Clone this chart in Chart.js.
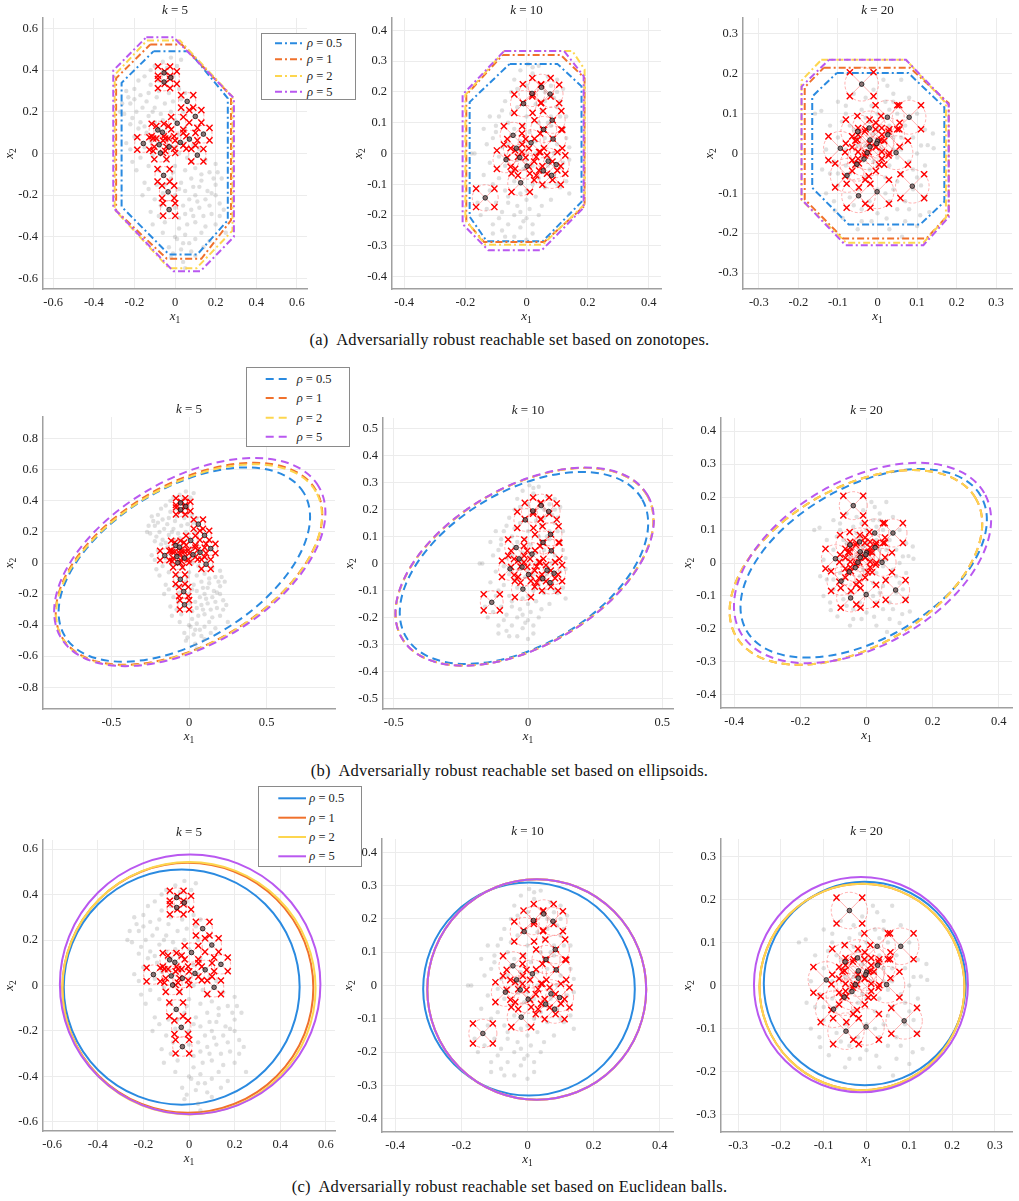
<!DOCTYPE html>
<html>
<head>
<meta charset="utf-8">
<script src="https://cdn.jsdelivr.net/npm/chart.js@4.4.1/dist/chart.umd.min.js"></script>
<style>
  body { margin: 0; background: #fff; width: 1019px; height: 1201px; position: relative; overflow: hidden; font-family: "Liberation Serif", "Times New Roman", "DejaVu Serif", serif; }
  .panel { position: absolute; }
  .legend { position: absolute; z-index: 5; }
  .caption { position: absolute; left: 0; width: 1019px; text-align: center; font-size: 16.5px; letter-spacing: 0.2px; color: #111; white-space: pre; }
</style>
</head>
<body>

<div class="caption" style="top:330px">(a)  Adversarially robust reachable set based on zonotopes.</div>
<div class="caption" style="top:761px">(b)  Adversarially robust reachable set based on ellipsoids.</div>
<div class="caption" style="top:1177px">(c)  Adversarially robust reachable set based on Euclidean balls.</div>

<script>
// legend
const rhoLabels = ['0.5', '1', '2', '5'];
const rhoColors = ['#2a8ae0', '#f0712c', '#fdd64f', '#b958f0'];

// tick labels
const ticks6 = [-0.6, -0.4, -0.2, 0, 0.2, 0.4, 0.6];
const ticks4by2 = [-0.4, -0.2, 0, 0.2, 0.4];
const ticks4by1 = [-0.4, -0.3, -0.2, -0.1, 0, 0.1, 0.2, 0.3, 0.4];
const ticks3 = [-0.3, -0.2, -0.1, 0, 0.1, 0.2, 0.3];
const ticksHalf = [-0.5, 0, 0.5];
const ticks8 = [-0.8, -0.6, -0.4, -0.2, 0, 0.2, 0.4, 0.6, 0.8];
const ticks5by1 = [-0.5, -0.4, -0.3, -0.2, -0.1, 0, 0.1, 0.2, 0.3, 0.4, 0.5];

// perturbation radius around each sampled state
const eps = 0.03;

// gray sampled trajectories
const cloudK5 = [
  [-0.02,0.46],[0.03,0.45],[-0.06,0.44],[-0.1,0.42],[-0.15,0.37],[0.01,0.42],[-0.12,0.33],[-0.2,0.31],[-0.24,0.3],[-0.17,0.28],
  [-0.08,0.3],[-0.03,0.29],[0.02,0.31],[-0.27,0.2],[-0.22,0.24],[-0.14,0.25],[-0.1,0.22],[-0.05,0.24],[0.03,0.26],[-0.25,0.19],
  [-0.19,0.2],[-0.13,0.18],[-0.07,0.19],[-0.02,0.2],[0.04,0.2],[-0.22,0.14],[-0.17,0.15],[-0.1,0.15],[-0.04,0.13],[0.05,0.12],
  [-0.2,0.08],[-0.14,0.1],[-0.03,0.07],[0.02,0.09],[0.09,0.04],[-0.22,0.02],[-0.17,-0.02],[-0.11,-0.01],[-0.04,-0.03],[0.02,0.0],
  [0.06,-0.02],[0.15,-0.03],[0.2,-0.05],[-0.19,-0.08],[-0.13,-0.06],[-0.08,-0.08],[0.0,-0.06],[0.05,-0.08],[0.1,-0.07],[0.17,-0.09],
  [-0.15,-0.14],[-0.09,-0.15],[-0.02,-0.12],[0.03,-0.14],[0.08,-0.12],[0.13,-0.13],[0.2,-0.15],[0.23,-0.12],[-0.16,-0.2],[-0.1,-0.22],
  [0.0,-0.2],[0.05,-0.18],[0.1,-0.2],[0.15,-0.22],[0.22,-0.24],[-0.12,-0.28],[0.0,-0.26],[0.04,-0.25],[0.08,-0.27],[0.12,-0.26],
  [0.18,-0.29],[0.22,-0.3],[-0.11,-0.34],[-0.05,-0.33],[0.02,-0.31],[0.06,-0.34],[0.1,-0.33],[0.15,-0.35],[0.25,-0.38],[-0.06,-0.38],
  [0.0,-0.4],[0.05,-0.39],[0.1,-0.41],[0.17,-0.42],[-0.03,-0.45],[0.03,-0.46],[0.08,-0.47],[-0.02,-0.5],[0.04,-0.52],[0.05,-0.55],
  [0.1,-0.49],[-0.07,0.05],[-0.12,0.06],[0.0,0.03],[0.07,0.07],[-0.05,-0.15],[0.07,-0.22],[0.09,-0.3],[0.02,-0.36],[-0.08,0.12],
  [0.0,0.16],[-0.16,0.22],[-0.2,0.26],[-0.18,0.12],[-0.09,0.27],[0.12,-0.16],[0.14,-0.3],[0.18,-0.19],[-0.07,-0.25],[0.04,-0.43],
  [-0.01,0.37],[-0.04,0.41],[-0.23,0.27],[-0.26,0.24],[-0.21,0.17],[-0.15,0.13],[-0.11,0.2],[-0.06,0.16],[-0.01,0.25],[0.05,0.29],
  [-0.13,0.29],[-0.18,0.35],[-0.08,0.35],[-0.12,0.4],[-0.24,0.05],[-0.21,-0.04],[-0.15,0.03],[-0.09,0.07],[0.04,0.05],[0.12,0.02],
  [0.08,-0.04],[-0.01,-0.09],[0.13,-0.1],[0.19,-0.12],[-0.13,-0.17],[-0.06,-0.19],[0.02,-0.17],[0.09,-0.16],[0.16,-0.18],[0.2,-0.2],
  [-0.08,-0.3],[0.05,-0.29],[0.11,-0.23],[0.17,-0.25],[0.13,-0.38],[0.2,-0.34],[0.07,-0.43],[-0.01,-0.48],[0.01,-0.41],[0.14,-0.45],
  [0.24,-0.27],[0.21,-0.09]
];
const cloudK10 = [
  [0.005,0.29],[0.04,0.285],[-0.02,0.27],[0.02,0.26],[0.07,0.25],[0.1,0.24],[-0.04,0.24],[0.12,0.21],[-0.05,0.2],[0.0,0.22],
  [0.06,0.2],[0.09,0.18],[-0.07,0.17],[-0.03,0.15],[0.03,0.16],[0.1,0.15],[0.13,0.12],[-0.09,0.12],[-0.12,0.12],[-0.06,0.1],
  [0.0,0.12],[0.04,0.1],[0.08,0.09],[0.12,0.08],[-0.1,0.07],[-0.05,0.06],[0.01,0.07],[0.06,0.05],[0.1,0.03],[0.14,0.02],
  [-0.13,0.03],[-0.17,0.0],[-0.08,0.02],[-0.02,0.01],[0.03,0.0],[0.07,-0.01],[0.12,-0.03],[0.14,-0.02],[-0.12,-0.03],[-0.07,-0.04],
  [-0.01,-0.05],[0.05,-0.06],[0.09,-0.07],[0.13,-0.09],[-0.14,-0.07],[-0.09,-0.08],[-0.04,-0.09],[0.02,-0.1],[0.06,-0.11],[0.11,-0.11],
  [0.14,-0.13],[-0.12,-0.12],[-0.07,-0.12],[-0.02,-0.13],[0.03,-0.14],[0.08,-0.15],[-0.1,-0.16],[-0.06,-0.16],[-0.03,-0.17],[0.01,-0.18],
  [0.05,-0.17],[-0.15,-0.2],[-0.08,-0.19],[-0.04,-0.2],[0.0,-0.21],[-0.11,-0.23],[-0.06,-0.23],[-0.02,-0.24],[0.02,-0.23],[-0.11,-0.26],
  [-0.04,-0.27],[0.0,-0.28],[-0.08,-0.25],[0.04,-0.2],[-0.05,0.13],[0.05,0.14],[0.08,0.12],[-0.01,0.09],[-0.03,-0.02],[0.02,-0.04],
  [-0.09,-0.01],[0.03,0.04],[0.07,0.1],[0.1,0.2],[-0.16,-0.16],[-0.18,0.0],[-0.1,0.09],[0.0,-0.15],[0.02,0.28],[-0.03,0.21],
  [0.08,0.22],[0.11,0.17],[-0.08,0.14],[0.02,0.19],[-0.04,0.08],[0.05,0.08],[0.11,0.12],[-0.11,0.05],[-0.06,0.03],[0.09,0.0],
  [0.0,-0.02],[-0.05,-0.06],[0.07,-0.04],[-0.11,-0.1],[0.04,-0.08],[0.1,-0.1],[-0.06,-0.14],[0.0,-0.12],[-0.09,-0.21],[-0.02,-0.19],
  [0.02,-0.26],[-0.07,-0.27],[-0.13,-0.18],[-0.14,0.08],[0.13,0.05],[-0.02,0.04],[0.06,0.17],[-0.01,-0.22]
];
const cloudK20 = [
  [0.015,0.185],[0.06,0.185],[-0.01,0.16],[0.04,0.15],[-0.06,0.15],[-0.1,0.13],[0.02,0.13],[0.08,0.14],[-0.158,0.1],[-0.142,0.107],
  [-0.08,0.1],[-0.04,0.11],[0.0,0.1],[0.05,0.1],[0.1,0.1],[-0.12,0.07],[-0.07,0.07],[-0.02,0.08],[0.03,0.07],[0.07,0.07],
  [0.12,0.06],[-0.1,0.04],[-0.05,0.04],[-0.01,0.05],[0.04,0.04],[0.09,0.04],[0.127,0.021],[0.142,0.013],[-0.13,0.01],[-0.08,0.01],
  [-0.03,0.02],[0.01,0.01],[0.06,0.01],[0.1,0.0],[-0.11,-0.02],[-0.06,-0.02],[-0.01,-0.02],[0.03,-0.03],[0.08,-0.02],[0.12,-0.03],
  [-0.12,-0.05],[-0.07,-0.05],[-0.03,-0.06],[0.02,-0.06],[0.06,-0.05],[0.1,-0.06],[-0.1,-0.08],[-0.05,-0.09],[0.0,-0.09],[0.04,-0.09],
  [0.09,-0.09],[-0.13,-0.1],[-0.07,-0.11],[-0.02,-0.12],[0.03,-0.12],[0.07,-0.12],[0.12,-0.11],[-0.108,-0.143],[-0.088,-0.162],[-0.04,-0.14],
  [0.0,-0.15],[0.05,-0.14],[0.131,-0.147],[0.108,-0.155],[-0.015,-0.17],[0.023,-0.163],[0.1,-0.182],[0.062,-0.209],[-0.02,0.03],[0.0,-0.03],
  [0.02,0.03],[-0.04,-0.01],[-0.06,0.06],[0.05,-0.01],[-0.015,0.12],[0.025,0.17],[-0.04,-0.17],[0.07,-0.17],[-0.03,0.14],[0.03,0.11],
  [-0.09,0.08],[0.08,0.09],[-0.05,0.02],[0.04,0.01],[0.0,0.06],[-0.02,-0.04],[0.05,-0.07],[-0.08,-0.03],[0.09,-0.04],[-0.06,-0.13],
  [0.02,-0.1],[0.08,-0.14],[-0.11,-0.12],[0.11,-0.08],[-0.14,-0.04],[0.14,0.05],[-0.05,-0.19],[0.03,-0.19],[0.04,0.13],[-0.08,0.12],
  [0.11,0.02],[-0.1,-0.05],[0.06,0.04],[-0.03,0.09]
];

// black nominal states (centre of each perturbation ball)
const centersK5 = [
  [-0.054,0.387],[-0.021,0.364],[-0.054,0.343],[0.06,0.25],[0.10,0.178],[0.011,0.145],[0.14,0.093],[-0.085,0.113],[-0.062,0.102],[-0.156,0.048],
  [-0.078,0.042],[-0.029,0.032],[0.026,0.053],[0.071,0.069],[-0.072,0.002],[0.110,-0.008],[-0.056,-0.105],[-0.034,-0.184],[-0.029,-0.269]
];
const centersK10 = [
  [0.018,0.195],[-0.01,0.162],[0.049,0.215],[0.077,0.193],[0.056,0.078],[0.087,0.047],[0.084,0.108],[0.015,0.035],[-0.033,0.017],[-0.044,0.059],
  [-0.022,-0.013],[-0.067,-0.02],[0.002,-0.041],[0.071,-0.025],[0.097,-0.036],[0.055,-0.056],[0.082,-0.071],[-0.019,-0.095],[-0.135,-0.144]
];
const centersK20 = [
  [-0.04,0.174],[0.025,0.091],[0.08,0.091],[-0.021,0.064],[-0.05,0.055],[0.026,0.047],[-0.019,0.034],[0.0,0.031],[-0.002,0.025],[-0.019,0.017],
  [-0.094,0.013],[-0.026,0.002],[0.047,0.002],[-0.034,-0.014],[-0.052,-0.027],[-0.077,-0.055],[0.088,-0.082],[-0.048,-0.106],[-0.001,-0.096]
];

// zonotope vertices, one polygon per rho (0.5, 1, 2, 5)
const zonoK5 = [
  [[-0.106,0.49],[0.07,0.49],[0.26,0.265],[0.26,-0.32],[0.11,-0.484],[-0.03,-0.484],[-0.263,-0.255],[-0.263,0.339]],
  [[-0.122,0.523],[0.033,0.523],[0.276,0.277],[0.276,-0.32],[0.13,-0.505],[-0.04,-0.505],[-0.29,-0.274],[-0.29,0.361]],
  [[-0.138,0.542],[0.024,0.542],[0.283,0.273],[0.283,-0.37],[0.106,-0.55],[-0.03,-0.55],[-0.297,-0.27],[-0.297,0.377]],
  [[-0.141,0.558],[-0.008,0.558],[0.29,0.265],[0.29,-0.4],[0.125,-0.565],[-0.008,-0.565],[-0.304,-0.26],[-0.304,0.398]]
];
const zonoK10 = [
  [[-0.055,0.291],[0.101,0.291],[0.18,0.218],[0.18,-0.157],[0.053,-0.285],[-0.13,-0.285],[-0.186,-0.205],[-0.186,0.167]],
  [[-0.078,0.32],[0.112,0.32],[0.19,0.245],[0.19,-0.17],[0.058,-0.287],[-0.139,-0.287],[-0.197,-0.22],[-0.197,0.19]],
  [[-0.073,0.333],[0.15,0.333],[0.19,0.273],[0.19,-0.165],[0.053,-0.296],[-0.135,-0.296],[-0.2,-0.215],[-0.2,0.19]],
  [[-0.073,0.333],[0.123,0.333],[0.187,0.251],[0.187,-0.176],[0.05,-0.314],[-0.125,-0.314],[-0.209,-0.229],[-0.209,0.191]]
];
const zonoK20 = [
  [[-0.103,0.202],[0.078,0.202],[0.169,0.116],[0.169,-0.121],[0.108,-0.178],[-0.073,-0.178],[-0.165,-0.086],[-0.165,0.143]],
  [[-0.136,0.215],[0.082,0.215],[0.18,0.126],[0.18,-0.153],[0.124,-0.213],[-0.087,-0.213],[-0.184,-0.115],[-0.184,0.166]],
  [[-0.142,0.235],[0.072,0.235],[0.173,0.126],[0.173,-0.161],[0.116,-0.224],[-0.079,-0.224],[-0.192,-0.117],[-0.192,0.183]],
  [[-0.123,0.235],[0.072,0.235],[0.18,0.123],[0.18,-0.16],[0.116,-0.23],[-0.081,-0.23],[-0.192,-0.115],[-0.192,0.168]]
];

// ellipsoids: [cx, cy, semi-axis a, semi-axis b, angle in degrees]
const ellK5 = [
  [-0.03,-0.01,0.897,0.492,31],
  [0.0,-0.005,0.945,0.516,30],
  [0.0,-0.012,0.943,0.513,30],
  [0.005,0.006,0.962,0.535,30.3]
];
const ellK10 = [
  [-0.015,-0.0165,0.5085,0.287,30.2],
  [-0.013,-0.012,0.528,0.294,30],
  [-0.013,-0.012,0.528,0.294,30],
  [-0.0125,-0.0115,0.529,0.295,30]
];
const ellK20 = [
  [-0.0085,-0.001,0.409,0.231,30],
  [-0.032,-0.0135,0.4186,0.2408,30],
  [-0.032,-0.0135,0.4186,0.2408,30],
  [-0.012,0.0,0.425,0.251,30]
];

// Euclidean balls: [cx, cy, radius]
const ballK5 = [[-0.032,-0.007,0.517],[-0.005,-0.01,0.55],[0.0,-0.012,0.555],[0.005,0.005,0.571]];
const ballK10 = [[0.0045,-0.0105,0.32],[0.028,-0.012,0.331],[0.028,-0.012,0.331],[0.028,-0.012,0.331]];
const ballK20 = [[-0.004,0.0045,0.236],[-0.0105,-0.0035,0.2395],[-0.0105,-0.0035,0.2395],[-0.013,0.002,0.25]];

const panels = [
  { k: 5,  left: 43,  top: 18,  w: 264, h: 271, lim: 0.65, xt: ticks6,    yt: ticks6,    cloud: cloudK5,  centers: centersK5,  zono: zonoK5 },
  { k: 10, left: 392, top: 18,  w: 269, h: 271, lim: 0.44, xt: ticks4by2, yt: ticks4by1, cloud: cloudK10, centers: centersK10, zono: zonoK10 },
  { k: 20, left: 743, top: 18,  w: 269, h: 271, lim: 0.34, xt: ticks3,    yt: ticks3,    cloud: cloudK20, centers: centersK20, zono: zonoK20 },
  { k: 5,  left: 43,  top: 417, w: 292, h: 292, lim: 0.94, xt: ticksHalf, yt: ticks8,    cloud: cloudK5,  centers: centersK5,  ell: ellK5 },
  { k: 10, left: 383, top: 418, w: 290, h: 291, lim: 0.54, xt: ticksHalf, yt: ticks5by1, cloud: cloudK10, centers: centersK10, ell: ellK10 },
  { k: 20, left: 721, top: 418, w: 291, h: 290, lim: 0.44, xt: ticks4by2, yt: ticks4by1, cloud: cloudK20, centers: centersK20, ell: ellK20 },
  { k: 5,  left: 43,  top: 840, w: 292, h: 291, lim: 0.64, xt: ticks6,    yt: ticks6,    cloud: cloudK5,  centers: centersK5,  ball: ballK5 },
  { k: 10, left: 382, top: 839, w: 291, h: 293, lim: 0.44, xt: ticks4by2, yt: ticks4by1, cloud: cloudK10, centers: centersK10, ball: ballK10 },
  { k: 20, left: 721, top: 839, w: 291, h: 293, lim: 0.34, xt: ticks3,    yt: ticks3,    cloud: cloudK20, centers: centersK20, ball: ballK20 }
];

const legends = [
  { left: 261, top: 33,  w: 95,  h: 67, rows: [10.3, 26.3, 43, 58.7], x1: 14,   x2: 43, tx: 46,   dash: '7 3 2 3' },
  { left: 246, top: 367, w: 104, h: 80, rows: [12, 31, 50.7, 69.7],   x1: 19.7, x2: 44, tx: 50.7, dash: '8 5' },
  { left: 258, top: 786, w: 104, h: 81, rows: [12.3, 31.7, 51, 70.3], x1: 20.3, x2: 48, tx: 51.3, dash: '' }
];

const FONT = '"Liberation Serif", "Times New Roman", "DejaVu Serif", serif';
Chart.defaults.font.family = FONT;
Chart.defaults.font.size = 12;
Chart.defaults.color = '#222';

const fmt = v => (Math.abs(v) < 1e-9 ? '0' : String(+v.toFixed(2)));

function ring(ctx, xs, ys, cx, cy, a, b, deg, color, lw, dash) {
  const kx = xs.getPixelForValue(1) - xs.getPixelForValue(0);
  const ky = ys.getPixelForValue(1) - ys.getPixelForValue(0);
  ctx.save();
  ctx.translate(xs.getPixelForValue(cx), ys.getPixelForValue(cy));
  ctx.scale(kx, ky);
  ctx.rotate(deg * Math.PI / 180);
  ctx.beginPath();
  ctx.ellipse(0, 0, a, b, 0, 0, Math.PI * 2);
  ctx.restore();
  ctx.strokeStyle = color;
  ctx.lineWidth = lw;
  ctx.setLineDash(dash);
  ctx.stroke();
}

function mixedText(ctx, parts, x, y) {
  const fontOf = p => (p[1] === 'i' ? 'italic 13px ' : p[1] === 's' ? '9.5px ' : '13px ') + FONT;
  let total = 0;
  parts.forEach(p => { ctx.font = fontOf(p); total += ctx.measureText(p[0]).width; });
  let cx = x - total / 2;
  ctx.fillStyle = '#222';
  ctx.textBaseline = 'middle';
  ctx.textAlign = 'left';
  parts.forEach(p => {
    ctx.font = fontOf(p);
    ctx.fillText(p[0], cx, p[1] === 's' ? y + 3.5 : y);
    cx += ctx.measureText(p[0]).width;
  });
}

function overlay(p) {
  return {
    id: 'overlay',
    beforeDatasetsDraw(chart) {
      const { ctx, chartArea: a, scales: { x, y } } = chart;
      ctx.save();
      ctx.beginPath();
      ctx.rect(a.left, a.top, a.right - a.left, a.bottom - a.top);
      ctx.clip();
      if (p.ell) p.ell.forEach((e, j) => ring(ctx, x, y, e[0], e[1], e[2], e[3], e[4], rhoColors[j], 2, [8, 5]));
      if (p.ball) p.ball.forEach((b, j) => ring(ctx, x, y, b[0], b[1], b[2], b[2], 0, rhoColors[j], 2, []));
      const r = eps * Math.SQRT2;
      p.centers.forEach(c => {
        ring(ctx, x, y, c[0], c[1], r, r, 0, 'rgba(255,60,60,0.5)', 0.8, [3, 2]);
        ctx.setLineDash([]);
        ctx.strokeStyle = 'rgba(255,60,60,0.5)';
        ctx.lineWidth = 0.8;
        ctx.beginPath();
        ctx.moveTo(x.getPixelForValue(c[0] - eps), y.getPixelForValue(c[1] - eps));
        ctx.lineTo(x.getPixelForValue(c[0] + eps), y.getPixelForValue(c[1] + eps));
        ctx.moveTo(x.getPixelForValue(c[0] - eps), y.getPixelForValue(c[1] + eps));
        ctx.lineTo(x.getPixelForValue(c[0] + eps), y.getPixelForValue(c[1] - eps));
        ctx.stroke();
      });
      ctx.restore();
    },
    afterDraw(chart) {
      const { ctx, chartArea: a } = chart;
      const mid = (a.left + a.right) / 2;
      ctx.save();
      mixedText(ctx, [['k', 'i'], [' = ' + p.k, 'n']], mid, a.top - 7);
      mixedText(ctx, [['x', 'i'], ['1', 's']], mid, a.bottom + 28);
      ctx.translate(a.left - 33, (a.top + a.bottom) / 2);
      ctx.rotate(-Math.PI / 2);
      mixedText(ctx, [['x', 'i'], ['2', 's']], 0, 0);
      ctx.restore();
    }
  };
}

const L = 48, T = 20, R = 10, B = 42;

panels.forEach(p => {
  const box = document.createElement('div');
  box.className = 'panel';
  const W = p.w + L + R, H = p.h + T + B;
  box.style.left = (p.left - L) + 'px';
  box.style.top = (p.top - T) + 'px';
  box.style.width = W + 'px';
  box.style.height = H + 'px';
  const cv = document.createElement('canvas');
  cv.width = W; cv.height = H;
  cv.style.width = W + 'px'; cv.style.height = H + 'px';
  box.appendChild(cv);
  document.body.appendChild(box);

  const attacks = [];
  p.centers.forEach(c => {
    [[-1, 1], [1, 1], [-1, -1], [1, -1]].forEach(s => attacks.push({ x: c[0] + s[0] * eps, y: c[1] + s[1] * eps }));
  });

  const datasets = [
    { data: p.centers.map(c => ({ x: c[0], y: c[1] })), pointStyle: 'circle', pointRadius: 2.3,
      backgroundColor: 'rgba(120,100,100,0.85)', borderColor: '#111', borderWidth: 0.8, order: 0 },
    { data: attacks, pointStyle: 'crossRot', pointRadius: 4.3, borderColor: '#ff0000', backgroundColor: '#ff0000',
      borderWidth: 1.4, order: 1 }
  ];
  if (p.zono) {
    p.zono.forEach((poly, j) => datasets.push({
      data: poly.concat([poly[0]]).map(v => ({ x: v[0], y: v[1] })),
      showLine: true, pointRadius: 0, borderColor: rhoColors[j], borderWidth: 2,
      borderDash: [7, 3, 2, 3], fill: false, tension: 0, order: 5 - j
    }));
  }
  datasets.push({ data: p.cloud.map(v => ({ x: v[0], y: v[1] })), pointStyle: 'circle', pointRadius: 2.2,
    backgroundColor: 'rgba(150,150,150,0.3)', borderWidth: 0, order: 10 });

  const axis = (ticks, isX) => ({
    type: 'linear',
    min: -p.lim,
    max: p.lim,
    afterBuildTicks: s => { s.ticks = ticks.map(v => ({ value: v })); },
    afterFit: s => { if (isX) s.height = B; else s.width = L; },
    ticks: { padding: isX ? 6 : 5, callback: v => fmt(v), autoSkip: false, maxRotation: 0, color: '#222', font: { size: 12.5 } },
    grid: { color: '#ececec', lineWidth: 1, drawTicks: false },
    border: { display: true, color: '#a0a0a0', width: 1.5 }
  });

  new Chart(cv, {
    type: 'scatter',
    data: { datasets },
    options: {
      responsive: false,
      animation: false,
      events: [],
      layout: { padding: { top: T, right: R, left: 0, bottom: 0 } },
      plugins: { legend: { display: false }, tooltip: { enabled: false } },
      scales: { x: axis(p.xt, true), y: axis(p.yt, false) }
    },
    plugins: [overlay(p)]
  });
});

// legends drawn as svg so they can straddle neighbouring panels
const svgNS = 'http://www.w3.org/2000/svg';
legends.forEach(lg => {
  const svg = document.createElementNS(svgNS, 'svg');
  svg.setAttribute('class', 'legend');
  svg.setAttribute('width', lg.w);
  svg.setAttribute('height', lg.h);
  svg.style.left = lg.left + 'px';
  svg.style.top = lg.top + 'px';
  const rect = document.createElementNS(svgNS, 'rect');
  rect.setAttribute('x', 0.5); rect.setAttribute('y', 0.5);
  rect.setAttribute('width', lg.w - 1); rect.setAttribute('height', lg.h - 1);
  rect.setAttribute('fill', '#fff'); rect.setAttribute('stroke', '#8a8a8a'); rect.setAttribute('stroke-width', 1);
  svg.appendChild(rect);
  rhoLabels.forEach((lab, j) => {
    const yy = lg.rows[j];
    const ln = document.createElementNS(svgNS, 'line');
    ln.setAttribute('x1', lg.x1); ln.setAttribute('x2', lg.x2);
    ln.setAttribute('y1', yy); ln.setAttribute('y2', yy);
    ln.setAttribute('stroke', rhoColors[j]); ln.setAttribute('stroke-width', 2);
    if (lg.dash) ln.setAttribute('stroke-dasharray', lg.dash);
    svg.appendChild(ln);
    const tx = document.createElementNS(svgNS, 'text');
    tx.setAttribute('x', lg.tx); tx.setAttribute('y', yy + 4);
    tx.setAttribute('font-family', FONT); tx.setAttribute('font-size', '12.5');
    tx.setAttribute('fill', '#222');
    const rho = document.createElementNS(svgNS, 'tspan');
    rho.setAttribute('font-style', 'italic');
    rho.textContent = 'ρ';
    tx.appendChild(rho);
    tx.appendChild(document.createTextNode(' = ' + lab));
    svg.appendChild(tx);
  });
  document.body.appendChild(svg);
});
</script>
</body>
</html>
